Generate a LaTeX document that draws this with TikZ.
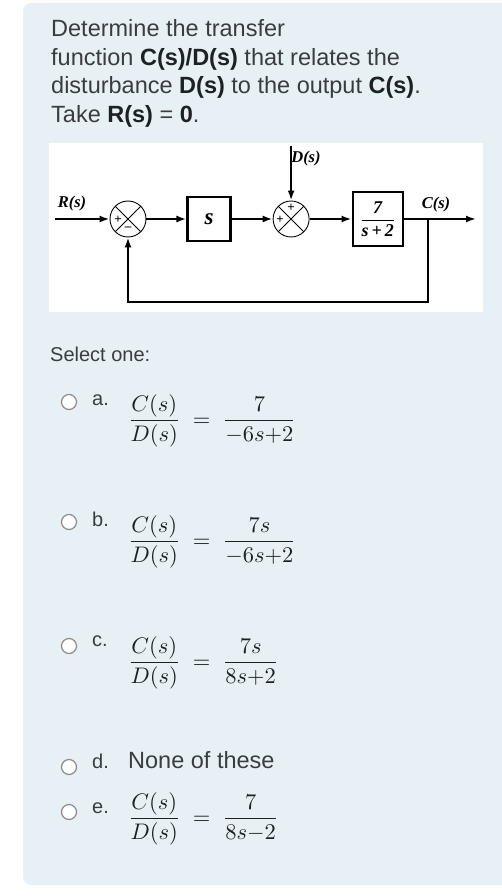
\documentclass[tikz,border=0pt]{standalone}
\usepackage{amsmath}
\usepackage{fontspec}
\setmainfont{Liberation Sans}
\newfontfamily\diagfont{Liberation Serif}
\usetikzlibrary{arrows.meta, positioning}
\definecolor{panelbg}{HTML}{E7F1F5}
\definecolor{qtext}{HTML}{3A3D40}
\definecolor{qbold}{HTML}{1D2125}
\definecolor{radiogray}{HTML}{8A8A8A}
\newcommand{\qb}[1]{{\color{qbold}\bfseries #1}}
\tikzset{
  qline/.style={anchor=base west, inner sep=0pt, text=qtext, font=\fontsize{23.5}{29}\selectfont},
  optlabel/.style={anchor=base west, inner sep=0pt, text=qtext, font=\fontsize{20}{24}\selectfont},
  optmath/.style={anchor=base west, inner sep=0pt, text=qbold, scale=2.25, transform shape},
  radio/.style={circle, draw=radiogray, fill=white, line width=1.2pt, minimum size=15pt, inner sep=0pt},
  sumnode/.style={circle, draw, line width=0.9pt, minimum size=36pt, inner sep=0pt,
    path picture={\draw[line width=0.9pt]
      (path picture bounding box.north west) -- (path picture bounding box.south east)
      (path picture bounding box.north east) -- (path picture bounding box.south west);}},
  tfblock/.style={rectangle, draw, line width=2.2pt, inner sep=0pt,
    font=\diagfont\bfseries\itshape\fontsize{18}{20}\selectfont},
  siglabel/.style={inner sep=0pt, font=\diagfont\bfseries\itshape\fontsize{16.5}{18}\selectfont},
  signmark/.style={inner sep=0pt, font=\diagfont\bfseries\fontsize{13}{14}\selectfont},
  arrow/.style={-{Latex[length=10pt, width=7pt]}, line width=2pt},
}

\begin{document}
\begin{tikzpicture}[x=1pt, y=-1pt]
  \useasboundingbox (0,0) rectangle (502,896);
  \fill[white] (0,0) rectangle (502,896);
  \fill[panelbg, rounded corners=8pt] (23,3) rectangle (515,885);

  % question text
  \node (q1) [qline] at (51,37) {Determine the transfer};
  \node (q2) [qline] at (51,66) {function \qb{C(s)/D(s)} that relates the};
  \node (q3) [qline] at (51,94) {disturbance \qb{D(s)} to the output \qb{C(s)}.};
  \node (q4) [qline] at (51,123) {Take \qb{R(s)} = \qb{0}.};

  % block diagram
  \fill[white] (49,143) rectangle (483,312);
  \node (s1) [sumnode] at (128,219) {};
  \node (g1) [tfblock, minimum width=43pt, minimum height=44pt, right=40pt of s1,
    font=\diagfont\bfseries\itshape\fontsize{23}{24}\selectfont] {s};
  \node (s2) [sumnode, right=41pt of g1] {};
  \node (g2) [tfblock, minimum width=50pt, minimum height=54pt, right=42pt of s2]
    {$\dfrac{\hbox{7}}{\hbox{s\,+\,2}}$};
  \coordinate (rin) at (55,219);
  \path (s2.north) ++(0,-55) coordinate (dtop);
  \coordinate (branch) at (428,219);
  \coordinate (cout) at (476,219);
  \coordinate (fb) at (428,302);

  \node (rlab) [siglabel] at (72,204) {R(s)};
  \node (dlab) [siglabel] at (306,159) {D(s)};
  \node (clab) [siglabel] at (436,205) {C(s)};
  \node (s1a) [signmark, xshift=-10pt, yshift=-1pt] at (s1) {+};
  \node (s1b) [signmark, yshift=-10pt] at (s1) {\textendash};
  \node (s2a) [signmark, yshift=11pt] at (s2) {+};
  \node (s2b) [signmark, xshift=-11pt, yshift=-1pt] at (s2) {+};

  \draw[arrow] (rin) -- (s1);
  \draw[arrow] (s1) -- (g1);
  \draw[arrow] (g1) -- (s2);
  \draw[arrow] (dtop) -- (s2);
  \draw[arrow] (s2) -- (g2);
  \draw[arrow] (g2) -- (cout);
  \draw[arrow] (branch) -- (fb) -| (s1);

  % answer options
  \node (sel) [qline, font=\fontsize{20}{24}\selectfont] at (50,361) {Select one:};

  \node (ra) [radio] at (69,402) {};
  \node (la) [optlabel] at (92,405) {a.};
  \node (ma) [optmath] at (127.4,426.5) {$\dfrac{C(s)}{D(s)}\hspace{2.7pt}=\hspace{2.7pt}\dfrac{7}{-6s{+}2}$};

  \node (rb) [radio] at (69,522) {};
  \node (lb) [optlabel] at (92,526) {b.};
  \node (mb) [optmath] at (127.4,547.5) {$\dfrac{C(s)}{D(s)}\hspace{2.7pt}=\hspace{2.7pt}\dfrac{7s}{-6s{+}2}$};

  \node (rc) [radio] at (69,646) {};
  \node (lc) [optlabel] at (92,646.5) {c.};
  \node (mc) [optmath] at (127.4,668.5) {$\dfrac{C(s)}{D(s)}\hspace{2.7pt}=\hspace{2.7pt}\dfrac{7s}{8s{+}2}$};

  \node (rd) [radio] at (69,767) {};
  \node (ld) [optlabel] at (92,768) {d.};
  \node (md) [qline] at (128,768) {None of these};

  \node (re) [radio] at (69,812) {};
  \node (le) [optlabel] at (92,813) {e.};
  \node (me) [optmath] at (127.4,824.5) {$\dfrac{C(s)}{D(s)}\hspace{2.7pt}=\hspace{2.7pt}\dfrac{7}{8s{-}2}$};
\end{tikzpicture}
\end{document}
